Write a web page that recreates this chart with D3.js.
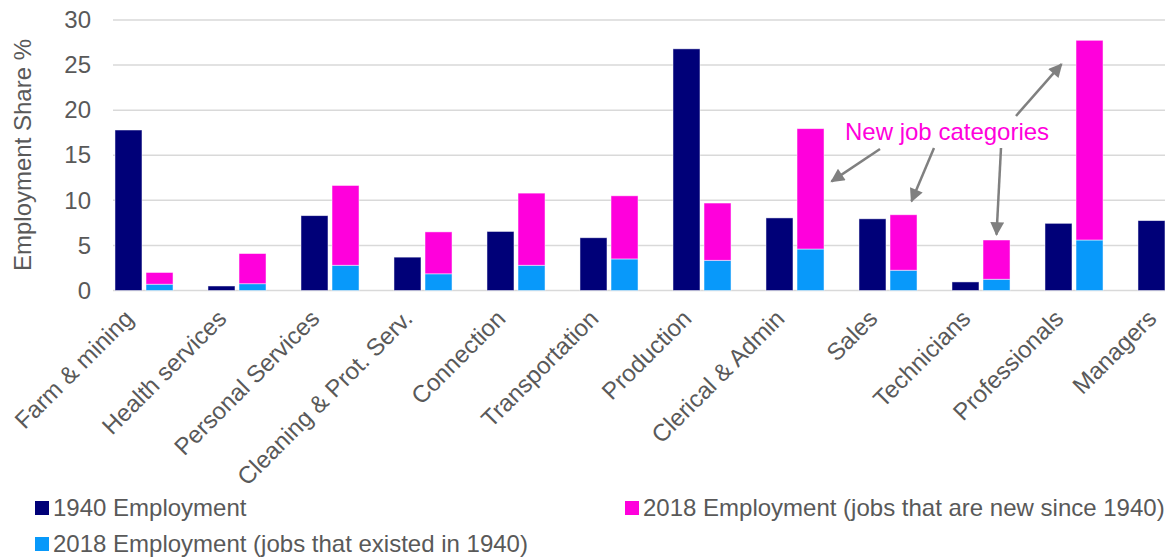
<!DOCTYPE html>
<html>
<head>
<meta charset="utf-8">
<script src="https://cdn.jsdelivr.net/npm/d3@7"></script>
<style>
    body { margin: 0; background: #fff; }
    svg { display: block; font-family: "Liberation Sans", Arial, sans-serif; }
</style>
</head>
<body>
<div id="chart"></div>
<script>
// 数据
const categories = ["Farm & mining", "Health services", "Personal Services", "Cleaning & Prot. Serv.",
    "Connection", "Transportation", "Production", "Clerical & Admin", "Sales", "Technicians",
    "Professionals", "Managers"];
const emp1940 = [17.8, 0.5, 8.3, 3.7, 6.55, 5.85, 26.8, 8.05, 7.95, 0.95, 7.45, 7.75];
const emp2018Existed = [0.7, 0.75, 2.8, 1.85, 2.8, 3.5, 3.35, 4.6, 2.25, 1.25, 5.6, null];
const emp2018New = [1.3, 3.35, 8.85, 4.65, 8.0, 7.0, 6.35, 13.35, 6.15, 4.35, 22.15, null];
const yTicks = [0, 5, 10, 15, 20, 25, 30];

const colors = { y1940: "#000078", existed: "#0899fa", newJobs: "#ff00dc" };
const textColor = "#595959";

const width = 1165;
const height = 557;

const svg = d3.select("#chart")
    .append("svg")
    .attr("width", width)
    .attr("height", height);

// 比例尺
const x0 = d3.scaleBand()
    .domain(categories)
    .range([97.5, 1213.5])
    .paddingInner(0.376)
    .paddingOuter(0.188);

const x1 = d3.scaleBand()
    .domain(["y1940", "y2018"])
    .range([0, x0.bandwidth()])
    .paddingInner(0.13);

const y = d3.scaleLinear()
    .domain([0, 30])
    .range([290.5, 20]);

// 网格线
svg.append("g")
    .selectAll("line")
    .data(yTicks)
    .enter()
    .append("line")
    .attr("x1", 113)
    .attr("x2", width)
    .attr("y1", d => y(d))
    .attr("y2", d => y(d))
    .attr("stroke", "#d9d9d9")
    .attr("stroke-width", 1.5);

// y轴
const yAxis = svg.append("g")
    .attr("transform", "translate(100,0)")
    .call(d3.axisLeft(y).tickValues(yTicks).tickSize(0).tickPadding(9));
yAxis.select(".domain").remove();
yAxis.selectAll("text")
    .attr("fill", textColor)
    .style("font-size", "24px")
    .style("font-family", "Liberation Sans, Arial, sans-serif");

svg.append("text")
    .attr("transform", "translate(31,155) rotate(-90)")
    .attr("text-anchor", "middle")
    .attr("fill", textColor)
    .style("font-size", "24px")
    .text("Employment Share %");

// 1940 柱
svg.append("g")
    .selectAll("rect")
    .data(categories)
    .enter()
    .append("rect")
    .attr("x", d => x0(d) + x1("y1940"))
    .attr("width", x1.bandwidth())
    .attr("y", (d, i) => y(emp1940[i]))
    .attr("height", (d, i) => y(0) - y(emp1940[i]))
    .attr("fill", colors.y1940)
    .attr("stroke", "#fff")
    .attr("stroke-opacity", 0.6)
    .attr("stroke-width", 0.8);

// 2018 堆叠柱
const table2018 = categories
    .map((c, i) => ({ category: c, existed: emp2018Existed[i], newJobs: emp2018New[i] }))
    .filter(d => d.existed !== null);

const stacked = d3.stack().keys(["existed", "newJobs"])(table2018);

svg.append("g")
    .selectAll("g")
    .data(stacked)
    .enter()
    .append("g")
    .attr("fill", s => colors[s.key])
    .selectAll("rect")
    .data(s => s)
    .enter()
    .append("rect")
    .attr("x", d => x0(d.data.category) + x1("y2018"))
    .attr("width", x1.bandwidth())
    .attr("y", d => y(d[1]))
    .attr("height", d => y(d[0]) - y(d[1]))
    .attr("stroke", "#fff")
    .attr("stroke-opacity", 0.6)
    .attr("stroke-width", 0.8);

// x轴标签
svg.append("g")
    .selectAll("text")
    .data(categories)
    .enter()
    .append("text")
    .attr("transform", d => `translate(${x0(d) + x0.bandwidth() / 2 - 9},320) rotate(-45)`)
    .attr("text-anchor", "end")
    .attr("fill", textColor)
    .style("font-size", "24px")
    .text(d => d);

// 标注
const noteColor = "#808080";
svg.append("defs")
    .append("marker")
    .attr("id", "arrowhead")
    .attr("viewBox", "0 0 10 10")
    .attr("refX", 9)
    .attr("refY", 5)
    .attr("markerWidth", 6)
    .attr("markerHeight", 5.5)
    .attr("markerUnits", "strokeWidth")
    .attr("orient", "auto")
    .append("path")
    .attr("d", "M0,0 L10,5 L0,10 Z")
    .attr("fill", noteColor);

svg.append("text")
    .attr("x", 845)
    .attr("y", 140)
    .attr("fill", "#ff00dc")
    .style("font-size", "24px")
    .text("New job categories");

// 箭头：起点在文字旁，终点指向 2018 柱（类别、相对柱中心偏移、数值）
const arrows = [
    { from: [880, 149], category: "Clerical & Admin", dx: 21, value: 12.1 },
    { from: [934, 148], category: "Sales", dx: 8, value: 9.9 },
    { from: [1001, 148], category: "Technicians", dx: 0, value: 6.2 },
    { from: [1016, 116], category: "Professionals", dx: -28, value: 25.1 }
];

svg.append("g")
    .selectAll("line")
    .data(arrows)
    .enter()
    .append("line")
    .attr("x1", d => d.from[0])
    .attr("y1", d => d.from[1])
    .attr("x2", d => x0(d.category) + x1("y2018") + x1.bandwidth() / 2 + d.dx)
    .attr("y2", d => y(d.value))
    .attr("stroke", noteColor)
    .attr("stroke-width", 2.5)
    .attr("marker-end", "url(#arrowhead)");

// 图例
const legendItems = [
    { label: "1940 Employment", color: colors.y1940, x: 35, y: 501 },
    { label: "2018 Employment (jobs that are new since 1940)", color: colors.newJobs, x: 625, y: 501 },
    { label: "2018 Employment (jobs that existed in 1940)", color: colors.existed, x: 35, y: 537 }
];

const legend = svg.append("g")
    .selectAll("g")
    .data(legendItems)
    .enter()
    .append("g")
    .attr("transform", d => `translate(${d.x},${d.y})`);

legend.append("rect")
    .attr("width", 14)
    .attr("height", 14)
    .attr("fill", d => d.color);

legend.append("text")
    .attr("x", 18)
    .attr("y", 15)
    .attr("fill", textColor)
    .style("font-size", "24px")
    .text(d => d.label);
</script>
</body>
</html>
